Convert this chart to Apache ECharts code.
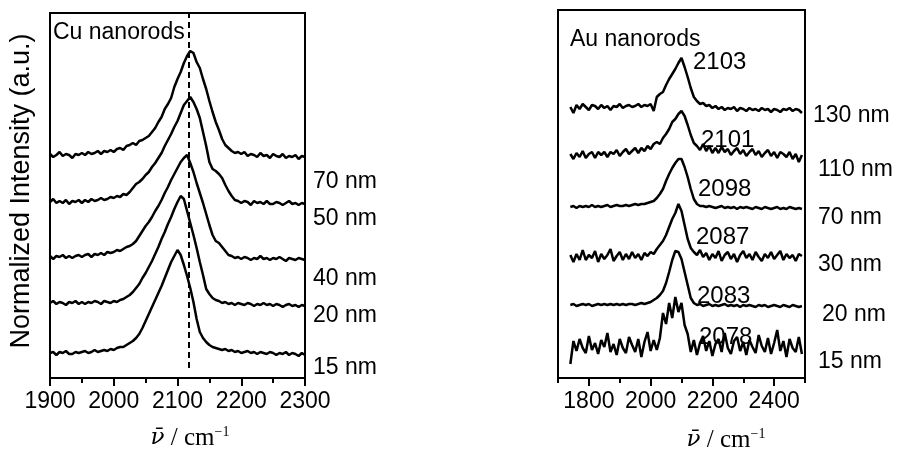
<!DOCTYPE html>
<html lang="en">
  <head>
    <meta charset="UTF-8" />
    <title>Cu / Au nanorods</title>
    <script src="https://cdn.jsdelivr.net/npm/echarts@6/dist/echarts.min.js"></script>
    <style>
      html, body { margin: 0; background: #fff; }
      #main { width: 899px; height: 460px; }
    </style>
  </head>

  <body>
    <div id="main"></div>
    <script type="text/javascript">
      // ---- Cu nanorods: 1900..2300 cm-1, one point every 5 cm-1 ----
      var cuStart = 1900;
      var cuStep = 5;
      var cuTicks = [1900, 2000, 2100, 2200, 2300];
      var cuLabels = ["70 nm", "50 nm", "40 nm", "20 nm", "15 nm"];
      var cuOffsets = [22.3, 17.6, 12.1, 7.5, 2.5];
      var cuDashAt = 2118;

      var cu70 = [
        0.1, -0.2, 0.0, 0.3, -0.1, 0.1, 0.0, -0.3, 0.1, 0.0,
        0.2, 0.0, 0.3, 0.1, 0.2, 0.4, 0.1, 0.4, 0.3, 0.5,
        0.3, 0.6, 0.7, 0.5, 0.9, 1.0, 1.2, 1.0, 1.4, 1.5,
        1.7, 1.9, 2.3, 2.7, 3.3, 3.8, 4.6, 5.1, 5.7, 6.8,
        7.6, 8.3, 9.2, 9.9, 10.4, 10.2, 9.3, 8.7, 7.6, 6.6,
        5.4, 4.3, 3.3, 2.5, 1.6, 1.0, 0.7, 0.4, 0.2, 0.3,
        0.1, 0.3, -0.1, 0.1, 0.0, -0.2, 0.2, -0.1, 0.0, -0.3,
        0.1, -0.1, -0.2, 0.1, -0.3, -0.1, -0.2, 0.0, -0.4, -0.1,
        -0.2
      ];
      var cu50 = [
        0.0, 0.3, -0.1, 0.1, -0.1, 0.2, -0.2, 0.1, 0.0, 0.2,
        -0.1, 0.2, 0.0, 0.3, 0.1, 0.2, 0.4, 0.2, 0.3, 0.5,
        0.4, 0.6, 0.5, 0.8, 0.7, 1.0, 1.4, 1.8, 2.0, 2.3,
        2.7, 3.0, 3.5, 3.9, 4.4, 4.9, 5.6, 6.2, 6.8, 7.5,
        8.1, 8.9, 9.7, 10.1, 10.5, 10.0, 9.3, 8.4, 7.0, 5.6,
        4.0, 3.3, 3.1, 2.8, 2.4, 1.7, 1.1, 0.6, 0.2, 0.1,
        -0.1, 0.1, 0.0, -0.3, 0.1, -0.1, 0.0, -0.2, 0.1, -0.2,
        -0.2, 0.0, -0.1, -0.3, -0.1, 0.1, -0.2, -0.1, -0.3, -0.1,
        -0.2
      ];
      var cu40 = [
        0.1, -0.2, 0.1, 0.0, 0.2, -0.1, 0.1, -0.1, 0.1, 0.2,
        0.0, 0.2, 0.3, 0.0, 0.3, 0.2, 0.4, 0.2, 0.5, 0.4,
        0.5, 0.7, 0.6, 0.8, 1.0, 1.1, 1.3, 1.6, 2.1, 2.6,
        3.1, 3.5, 4.0, 4.6, 5.1, 5.7, 6.4, 7.0, 7.7, 8.3,
        8.9, 9.5, 9.9, 10.2, 9.4, 8.5, 7.4, 6.4, 5.4, 4.3,
        3.2, 2.2, 1.6, 1.4, 1.0, 0.6, 0.2, 0.1, -0.1, 0.0,
        -0.2, 0.0, -0.1, -0.3, -0.1, -0.2, 0.1, -0.2, -0.1, -0.3,
        -0.1, -0.2, 0.0, -0.2, -0.4, -0.1, -0.2, -0.3, -0.1, -0.2,
        -0.3
      ];
      var cu20 = [
        0.0, 0.2, -0.1, 0.1, 0.0, -0.2, 0.1, 0.0, 0.2, -0.1,
        0.1, -0.1, 0.1, 0.0, 0.2, 0.1, -0.1, 0.2, 0.1, 0.0,
        0.2, 0.1, 0.3, 0.4, 0.6, 0.8, 1.1, 1.5, 1.9, 2.5,
        3.0, 3.6, 4.2, 4.9, 5.6, 6.4, 7.1, 7.9, 8.6, 9.4,
        10.1, 10.7, 10.4, 9.2, 8.0, 6.8, 5.5, 4.1, 2.8, 1.4,
        0.9, 0.5, 0.3, 0.2, 0.0, 0.1, -0.1, 0.0, -0.2, 0.0,
        -0.1, -0.2, 0.0, -0.1, -0.3, -0.1, -0.2, 0.0, -0.2, -0.1,
        -0.3, -0.1, -0.2, -0.4, -0.2, -0.1, -0.3, -0.2, -0.4, -0.2,
        -0.3
      ];
      var cu15 = [
        0.0, 0.1, -0.2, 0.1, 0.0, 0.2, -0.1, -0.1, 0.1, 0.0,
        0.1, 0.2, 0.0, 0.1, 0.3, 0.1, 0.2, 0.3, 0.2, 0.4,
        0.3, 0.5, 0.6, 0.6, 0.8, 1.0, 1.2, 1.5, 1.9, 2.5,
        3.2, 3.9, 4.6, 5.3, 6.0, 6.7, 7.5, 8.3, 9.1, 9.7,
        10.3, 9.8, 8.8, 7.7, 6.5, 5.1, 3.4, 2.1, 1.5, 1.1,
        0.8, 0.6, 0.5, 0.4, 0.3, 0.4, 0.2, 0.3, 0.1, 0.2,
        0.0, 0.1, 0.2, 0.0, 0.1, -0.1, 0.1, 0.0, -0.1, 0.1,
        0.0, -0.2, 0.0, -0.1, 0.1, -0.2, 0.0, -0.1, -0.3, 0.0,
        -0.2
      ];
      var cuSpectra = [cu70, cu50, cu40, cu20, cu15];

      // ---- Au nanorods: 1740..2490 cm-1, one point every 10 cm-1 ----
      var auStart = 1740;
      var auStep = 10;
      var auTicks = [1800, 2000, 2200, 2400];
      var auMinorTicks = [1700, 1900, 2100, 2300, 2500];
      var auLabels = ["130 nm", "110 nm", "70 nm", "30 nm", "20 nm", "15 nm"];
      var auPeaks = ["2103", "2101", "2098", "2087", "2083", "2078"];
      var auOffsets = [27.1, 22.3, 17.1, 12.1, 7.3, 3.1];

      var au130 = [
        0.0, -0.6, 0.2, -0.2, 0.3, 0.0, -0.3, 0.2, 0.1, -0.2,
        0.2, -0.1, 0.1, -0.3, 0.1, 0.0, 0.3, -0.1, 0.1, 0.2,
        0.0, 0.1, 0.3, 0.0, 0.2, 0.1, 0.3, -0.4, 1.0, 1.3,
        1.5, 2.2, 2.8, 3.3, 3.8, 4.4, 4.9, 4.0, 3.0, 1.9,
        1.0, 0.6, 0.3, 0.4, 0.1, 0.2, -0.1, 0.1, -0.2, 0.0,
        -0.3, -0.1, -0.2, 0.0, -0.4, -0.1, -0.2, -0.4, -0.1, -0.3,
        -0.2, -0.4, -0.1, -0.3, -0.2, -0.5, -0.2, -0.3, -0.5, -0.2,
        -0.3, -0.1, -0.4, -0.2, -0.3, -0.6
      ];
      var au110 = [
        0.1, -0.4, 0.2, -0.2, 0.4, -0.3, 0.1, 0.3, -0.3, 0.3,
        0.0, 0.3, -0.2, 0.3, 0.1, 0.5, -0.1, 0.3, 0.6, 0.1,
        0.4, 0.7, 0.2, 0.7, 0.4, 0.9, 0.6, 1.1, 1.3, 1.1,
        1.7, 2.1, 2.6, 3.3, 3.6, 4.1, 4.4, 3.9, 3.0, 2.0,
        1.2, 0.9, 0.5, 1.1, 0.4, 0.9, 0.2, 0.7, 0.2, 0.8,
        0.3, 0.6, 0.0, 0.4, 0.7, 0.1, 0.5, -0.1, 0.3, 0.6,
        0.0, 0.4, -0.2, 0.2, 0.5, -0.1, 0.3, -0.3, 0.3, 0.1,
        -0.2, 0.3, -0.4, 0.1, -0.7, 0.0
      ];
      var au70 = [
        0.0, 0.1, -0.1, 0.1, 0.0, 0.1, 0.0, 0.2, 0.0, 0.1,
        0.0, 0.1, 0.2, 0.0, 0.1, 0.2, 0.1, 0.1, 0.2, 0.1,
        0.2, 0.3, 0.2, 0.3, 0.3, 0.4, 0.5, 0.6, 0.9, 1.3,
        1.8, 2.6, 3.3, 3.9, 4.4, 4.8, 4.8, 4.0, 3.0, 1.8,
        0.8, 0.3, 0.1, 0.1, 0.0, 0.1, 0.0, -0.1, 0.0, 0.1,
        -0.1, 0.0, -0.1, 0.0, -0.2, 0.0, -0.1, 0.0, -0.1, -0.2,
        0.0, -0.1, -0.2, 0.0, -0.1, -0.2, -0.1, 0.0, -0.2, -0.1,
        -0.2, 0.0, -0.1, -0.2, -0.1, -0.2
      ];
      var au30 = [
        0.2, -0.5, 0.3, -0.3, 0.7, -0.3, 0.2, -0.1, 0.6, -0.5,
        0.3, -0.2, 0.2, 0.8, -0.4, 0.1, 0.5, -0.3, 0.3, -0.2,
        0.5, -0.1, 0.3, -0.3, 0.4, 0.1, 0.5, 0.3, 0.8, 1.2,
        1.6, 2.2, 3.0, 3.8, 4.4, 5.3, 4.6, 3.2, 1.8, 0.9,
        0.5, 0.2, 0.7, 0.0, 0.4, -0.3, 0.3, -0.1, 0.6, -0.4,
        0.2, 0.5, -0.2, 0.3, -0.5, 0.2, 0.6, -0.1, 0.3, -0.3,
        0.5, 0.0, -0.4, 0.3, -0.1, 0.5, -0.2, 0.2, 0.6, -0.3,
        0.3, -0.1, 0.2, -0.4, 0.3, 0.1
      ];
      var au20 = [
        0.0, 0.1, -0.1, 0.0, 0.1, 0.0, 0.1, -0.1, 0.0, 0.1,
        0.0, 0.1, 0.0, 0.1, 0.0, 0.1, 0.0, 0.1, 0.0, 0.1,
        0.1, 0.0, 0.1, 0.2, 0.1, 0.2, 0.3, 0.5, 0.7, 1.0,
        1.4, 2.2, 3.3, 4.5, 5.4, 5.3, 4.6, 3.3, 2.0, 0.7,
        0.2, 0.0, 0.1, -0.1, 0.0, 0.1, -0.1, 0.0, -0.1, 0.0,
        0.1, -0.1, 0.0, -0.1, 0.0, -0.2, 0.0, -0.1, 0.0, -0.1,
        -0.2, 0.0, -0.1, 0.0, -0.2, -0.1, 0.0, -0.1, -0.2, 0.0,
        -0.1, -0.2, 0.0, -0.1, -0.2, -0.1
      ];
      var au15 = [
        -1.7, 0.6, -0.4, 0.8, -0.1, -0.6, 1.1, -0.3, 0.4, -0.7,
        0.7, 0.0, 1.4, -0.5, 0.3, -0.8, 0.8, -0.1, -0.6, 1.0,
        0.2, -0.5, 0.8, -1.0, 0.5, 1.5, -0.4, 0.7, -0.3, 0.9,
        3.4, 2.3, 4.4, 2.9, 5.0, 3.5, 4.4, 2.2, 1.3, -0.5,
        0.7, -0.8, 0.4, 1.1, -0.4, 0.6, -0.9, 0.3, 0.8, -0.5,
        1.4, -0.1, -0.7, 0.6, 1.0, -0.4, 0.5, -0.8, 0.7, 0.0,
        -0.6, 1.2, 0.1, -0.5, 0.9, -0.7, 0.4, 1.7, -0.4, 0.6,
        -1.0, 0.8, -0.1, -0.5, 1.0, -0.7
      ];
      var auSpectra = [au130, au110, au70, au30, au20, au15];

      var sans = "Liberation Sans, Arial, sans-serif";
      var serif = "Liberation Serif, Times New Roman, serif";
      var black = "#000";

      function toPairs(start, step, values, offset) {
        return values.map(function (v, i) {
          return [start + i * step, Math.round((v + offset) * 100) / 100];
        });
      }

      function lineSeries(name, data, xIdx, yIdx) {
        return {
          name: name,
          type: "line",
          xAxisIndex: xIdx,
          yAxisIndex: yIdx,
          data: data,
          showSymbol: false,
          symbol: "none",
          silent: true,
          lineStyle: { color: black, width: 2.5 },
          z: 3,
        };
      }

      function main() {
        var myChart = echarts.init(document.getElementById("main"));

        var series = [];
        cuSpectra.forEach(function (s, i) {
          series.push(
            lineSeries("Cu " + cuLabels[i], toPairs(cuStart, cuStep, s, cuOffsets[i]), 0, 0)
          );
        });
        auSpectra.forEach(function (s, i) {
          series.push(
            lineSeries("Au " + auLabels[i], toPairs(auStart, auStep, s, auOffsets[i]), 1, 1)
          );
        });
        // dashed guide line in the Cu panel
        series[0].markLine = {
          silent: true,
          symbol: ["none", "none"],
          label: { show: false },
          lineStyle: { type: [6, 4], color: black, width: 2 },
          data: [[{ coord: [cuDashAt, 1.0] }, { coord: [cuDashAt, 36.5] }]],
        };

        var tickLine = { color: black, width: 2 };
        var tickLabel = {
          color: black,
          fontSize: 23,
          fontFamily: sans,
          margin: 12,
          formatter: function (v) { return String(v); },
        };

        // texts placed around the panels
        var graphics = [];
        function txt(x, y, text, size, extra) {
          var style = { text: text, x: 0, y: 0, fill: black, fontSize: size, fontFamily: sans, verticalAlign: "middle" };
          for (var k in extra || {}) style[k] = extra[k];
          return { type: "text", x: x, y: y, style: style, z: 10 };
        }
        graphics.push(txt(53, 33, "Cu nanorods", 23));
        graphics.push(txt(570, 40, "Au nanorods", 23));
        var cuLabelY = [182, 219, 279, 316, 368];
        cuLabels.forEach(function (t, i) {
          graphics.push(txt(313, cuLabelY[i], t, 23));
        });
        var auLabelX = [813, 818, 818, 818, 822, 818];
        var auLabelY = [116, 170, 218, 265, 315, 362];
        auLabels.forEach(function (t, i) {
          graphics.push(txt(auLabelX[i], auLabelY[i], t, 23));
        });
        var auPeakX = [693, 701, 698, 696, 697, 699];
        var auPeakY = [62, 140, 189, 237, 296, 337];
        auPeaks.forEach(function (t, i) {
          graphics.push(txt(auPeakX[i], auPeakY[i], t, 24));
        });
        var yName = txt(22, 191, "Normalized Intensity (a.u.)", 27, { align: "center" });
        yName.rotation = Math.PI / 2;
        graphics.push(yName);
        var xTitle = {
          text: "{v|\u03BD\u0304} / cm{s|\u22121}",
          fontFamily: serif,
          fontSize: 25,
          align: "center",
          rich: {
            v: { fontFamily: "DejaVu Serif", fontSize: 23, fontStyle: "italic" },
            s: { fontFamily: serif, fontSize: 14, padding: [0, 0, 12, 0] },
          },
        };
        graphics.push(txt(190, 438, "", 25, xTitle));
        graphics.push(txt(726, 440, "", 25, xTitle));

        const option = {
          animation: false,
          backgroundColor: "#fff",
          grid: [
            { left: 50, top: 13, width: 255, height: 365, show: true, borderColor: black, borderWidth: 2 },
            { left: 558, top: 10, width: 247, height: 368, show: true, borderColor: black, borderWidth: 2 },
          ],
          xAxis: [
            {
              gridIndex: 0,
              type: "value",
              min: cuTicks[0],
              max: cuTicks[cuTicks.length - 1],
              interval: 100,
              axisLine: { lineStyle: tickLine },
              axisTick: { length: 8, lineStyle: tickLine },
              minorTick: { show: true, splitNumber: 2, length: 5, lineStyle: tickLine },
              axisLabel: tickLabel,
              splitLine: { show: false },
              minorSplitLine: { show: false },
            },
            {
              gridIndex: 1,
              type: "value",
              min: 1700,
              max: 2500,
              interval: 100,
              axisLine: { lineStyle: tickLine },
              axisTick: { length: 8, lineStyle: tickLine, customValues: auTicks },
              axisLabel: Object.assign({ customValues: auTicks }, tickLabel),
              splitLine: { show: false },
            },
            {
              gridIndex: 1,
              type: "value",
              position: "bottom",
              min: 1700,
              max: 2500,
              interval: 100,
              axisLine: { show: false },
              axisTick: { length: 5, lineStyle: tickLine, customValues: auMinorTicks },
              axisLabel: { show: false },
              splitLine: { show: false },
            },
          ],
          yAxis: [
            { gridIndex: 0, type: "value", min: 0, max: 36.5, show: false },
            { gridIndex: 1, type: "value", min: 0, max: 36.8, show: false },
          ],
          graphic: graphics,
          series: series,
        };
        myChart.setOption(option);
      }

      main();
    </script>
  </body>
</html>
